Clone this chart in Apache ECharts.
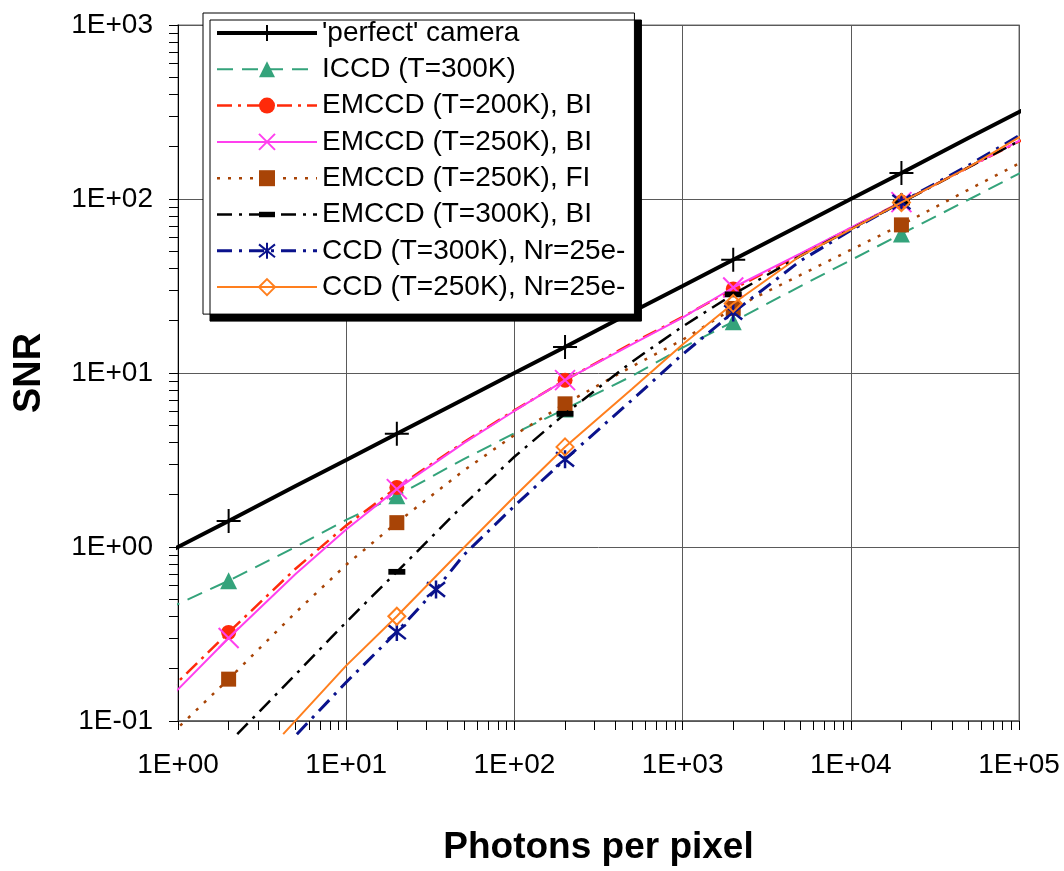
<!DOCTYPE html>
<html>
<head>
<meta charset="utf-8">
<script src="https://cdn.jsdelivr.net/npm/echarts@6/dist/echarts.min.js"></script>
<style>
html, body { margin: 0; padding: 0; background: #fff; }
#chartmain { width: 1064px; height: 871px; }
</style>
</head>
<body>
<div id="chartmain"></div>
<script>
// curves were read off at these photon counts; the first and last points are where
// each drawn line starts and stops just outside the plot frame
var photons = [0.83, 1, 2, 5, 10, 20, 50, 100, 200, 500, 1000, 2000, 5000, 10000, 20000, 50000, 100000, 120000];
var photonsFi = [1.03, 2, 5, 10, 20, 50, 100, 200, 500, 1000, 2000, 5000, 10000, 20000, 50000, 100000, 120000];
var photonsEm300 = [2.25, 5, 10, 20, 50, 100, 200, 500, 1000, 2000, 5000, 10000, 20000, 50000, 100000, 120000];
var photonsCcd300 = [5.09, 10, 20, 34.2, 50, 100, 200, 500, 1000, 2000, 5000, 10000, 20000, 50000, 100000, 120000];
var photonsCcd250 = [4.22, 10, 20, 50, 100, 200, 500, 1000, 2000, 5000, 10000, 20000, 50000, 100000, 120000];
// points that carry a marker
var markedPhotons = [2, 20, 34.2, 200, 2000, 20000];

var seriesNames = ["'perfect' camera", 'ICCD (T=300K)', 'EMCCD (T=200K), BI', 'EMCCD (T=250K), BI',
    'EMCCD (T=250K), FI', 'EMCCD (T=300K), BI', 'CCD (T=300K), Nr=25e-', 'CCD (T=250K), Nr=25e-'];

var snrPerfect = [0.91, 1.0, 1.41, 2.24, 3.16, 4.47, 7.07, 10.0, 14.1, 22.4, 31.6, 44.7, 70.7, 100, 141, 224, 316, 346];
var snrIccd300 = [0.44, 0.47, 0.64, 1.0, 1.43, 1.97, 3.2, 4.5, 6.2, 9.6, 14.0, 19.7, 31.5, 44.5, 63, 99, 140, 152];
var snrEmccd200Bi = [0.143, 0.168, 0.323, 0.75, 1.33, 2.2, 4.0, 6.1, 9.1, 14.8, 21.0, 30.4, 48, 68, 96, 152, 214, 232];
var snrEmccd250Bi = [0.128, 0.152, 0.30, 0.70, 1.26, 2.15, 3.95, 6.05, 9.1, 14.6, 20.8, 31, 48.5, 68.5, 96, 152, 216, 233];
var snrEmccd250Fi = [0.094, 0.174, 0.42, 0.79, 1.38, 2.75, 4.4, 6.65, 10.9, 15.5, 23.5, 36.5, 51, 71, 113, 160, 172];
var snrEmccd300Bi = [0.084, 0.185, 0.37, 0.72, 1.75, 3.3, 5.83, 11.6, 18.5, 28.3, 47, 67, 95.5, 152, 215, 234];
var snrCcd300 = [0.084, 0.167, 0.325, 0.57, 0.9, 1.72, 3.19, 7.0, 12.8, 22.3, 44, 66, 96, 156, 231, 250];
var snrCcd250 = [0.084, 0.208, 0.40, 0.99, 1.95, 3.76, 8.1, 14.6, 25.1, 47, 67, 95.5, 152, 226, 244];

var decadesX = [1, 10, 100, 1000, 10000, 100000];
var decadesY = [0.1, 1, 10, 100, 1000];

// minor + major tick positions (1..9 per decade)
function logTicks(decades) {
    var out = [];
    for (var i = 0; i < decades.length; i++) {
        var steps = i === decades.length - 1 ? 1 : 9;
        for (var k = 1; k <= steps; k++) out.push(decades[i] * k);
    }
    return out;
}

function expLabel(v) {
    var e = Math.round(Math.log10(v));
    var a = Math.abs(e);
    return '1E' + (e < 0 ? '-' : '+') + (a < 10 ? '0' : '') + a;
}

function pairs(xs, ys) {
    var out = [];
    for (var i = 0; i < xs.length; i++) {
        var item = {value: [xs[i], ys[i]]};
        if (markedPhotons.indexOf(xs[i]) < 0) item.symbol = 'none';
        out.push(item);
    }
    return out;
}

var FONT = "'Liberation Sans', Arial, sans-serif";

var plusPath = 'path://M0,5 L10,5 M5,0 L5,10';
var crossPath = 'path://M0,0 L10,10 M10,0 L0,10';
var starPath = 'path://M5,0 L5,10 M1,1 L9,9 M9,1 L1,9';
// the moves keep a square box so the bar stays flat in the legend too
var dashPath = 'path://M0,0 M10,10 M0,3.3 L10,3.3 L10,6.7 L0,6.7 Z';
var diamondPath = 'path://M5,0 L10,5 L5,10 L0,5 Z';

function lineSeries(idx, xs, ys, color, width, dash, symbol, size, fill, border) {
    return {
        name: seriesNames[idx],
        type: 'line',
        data: pairs(xs, ys),
        clip: false,
        symbol: symbol,
        symbolSize: size,
        z: 2 + idx * 0.1,
        lineStyle: {color: color, width: width, type: dash},
        itemStyle: {color: fill, borderColor: color, borderWidth: border},
        emphasis: {disabled: true}
    };
}

var myChart = echarts.init(document.getElementById('chartmain'));

var option = {
    animation: false,
    backgroundColor: '#fff',
    grid: {
        left: 178, right: 45, top: 25, bottom: 147,
        show: true, borderColor: '#a0a0a0', borderWidth: 1.5
    },
    legend: {
        orient: 'vertical',
        left: 203,
        top: 13,
        padding: [6, 9, 13, 12],
        itemWidth: 100,
        itemHeight: 20,
        itemGap: 8.3,
        selectedMode: false,
        backgroundColor: '#fff',
        borderColor: '#000',
        borderWidth: 1,
        shadowColor: '#000',
        shadowBlur: 0,
        shadowOffsetX: 7,
        shadowOffsetY: 7,
        lineStyle: {width: 'inherit'},
        textStyle: {fontFamily: FONT, fontSize: 28, lineHeight: 28, color: '#000'},
        data: seriesNames
    },
    xAxis: [{
        type: 'log',
        min: 1,
        max: 100000,
        name: 'Photons per pixel',
        nameLocation: 'middle',
        nameGap: 108,
        nameTextStyle: {fontFamily: FONT, fontSize: 37, fontWeight: 'bold', color: '#000'},
        axisLine: {lineStyle: {color: '#555', width: 1.5}},
        axisTick: {show: false},
        axisLabel: {fontFamily: FONT, fontSize: 28, color: '#000', margin: 30, formatter: expLabel},
        splitLine: {show: true, lineStyle: {color: '#5a5a5a', width: 1}},
        minorTick: {show: false}
    }, {
        type: 'log',
        min: 1,
        max: 100000,
        position: 'bottom',
        axisLine: {show: false},
        axisLabel: {show: false},
        splitLine: {show: false},
        axisTick: {show: true, length: 9, customValues: logTicks(decadesX), lineStyle: {color: '#000', width: 1}}
    }],
    yAxis: [{
        type: 'log',
        min: 0.1,
        max: 1000,
        name: 'SNR',
        nameLocation: 'middle',
        nameGap: 129,
        nameTextStyle: {fontFamily: FONT, fontSize: 38, fontWeight: 'bold', color: '#000'},
        axisLine: {show: true, lineStyle: {color: '#000', width: 1}},
        axisTick: {show: false},
        axisLabel: {fontFamily: FONT, fontSize: 28, color: '#000', margin: 25, formatter: expLabel},
        splitLine: {show: true, lineStyle: {color: '#5a5a5a', width: 1}}
    }, {
        type: 'log',
        min: 0.1,
        max: 1000,
        position: 'left',
        axisLine: {show: false},
        axisLabel: {show: false},
        splitLine: {show: false},
        axisTick: {show: true, length: 9, customValues: logTicks(decadesY), lineStyle: {color: '#000', width: 1}}
    }],
    series: [
        lineSeries(0, photons, snrPerfect, '#000000', 4, 'solid', plusPath, 24, '#000000', 2),
        lineSeries(1, photons, snrIccd300, '#34a37b', 2, [16, 9], 'triangle', 17, '#34a37b', 0),
        lineSeries(2, photons, snrEmccd200Bi, '#ff2a0a', 2.5, [15, 6, 3, 6], 'circle', 15, '#ff2a0a', 0),
        lineSeries(3, photons, snrEmccd250Bi, '#ff40ee', 2, 'solid', crossPath, 20, '#ff40ee', 2),
        lineSeries(4, photonsFi, snrEmccd250Fi, '#a84406', 2.5, [3, 8], 'rect', 15, '#a84406', 0),
        lineSeries(5, photonsEm300, snrEmccd300Bi, '#000000', 2.5, [15, 7, 3, 7], dashPath, 17, '#000000', 0),
        lineSeries(6, photonsCcd300, snrCcd300, '#0a128c', 3, [15, 7, 3, 7], starPath, 18, '#0a128c', 2.5),
        lineSeries(7, photonsCcd250, snrCcd250, '#ff7f1e', 2, 'solid', diamondPath, 17, 'rgba(255,255,255,0)', 2)
    ]
};

myChart.setOption(option);
</script>
</body>
</html>
